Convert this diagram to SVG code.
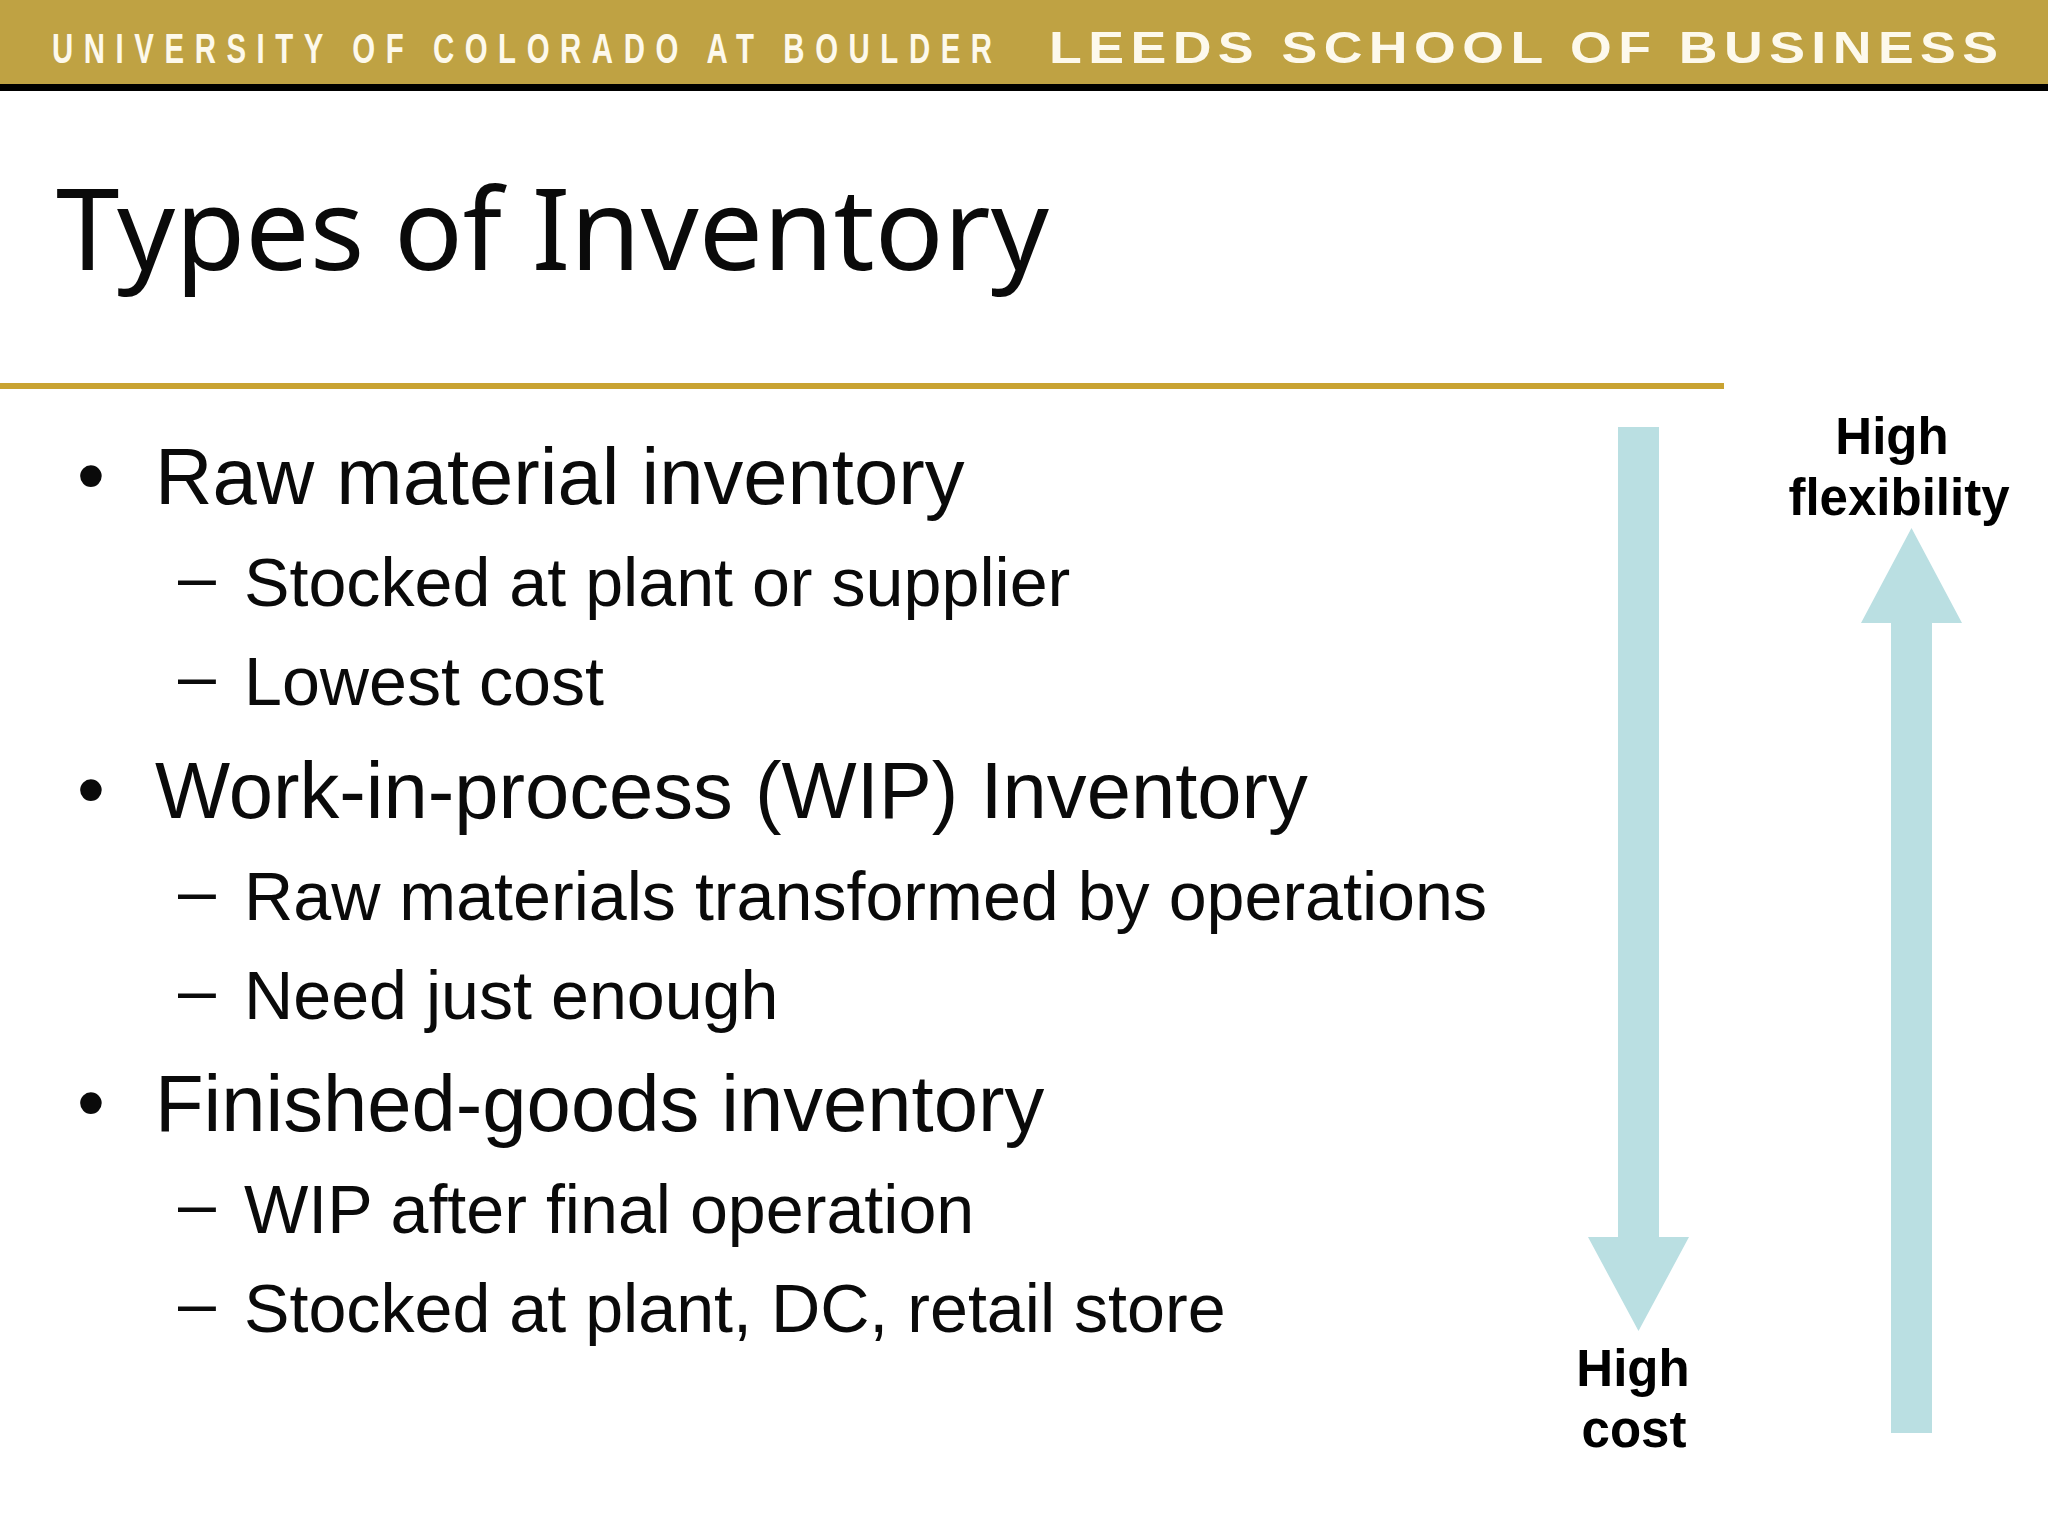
<svg xmlns="http://www.w3.org/2000/svg" width="2048" height="1536" viewBox="0 0 2048 1536">
<style>
.b{font-family:"Liberation Sans",Arial,sans-serif;fill:#0a0a0a}
.l1{font-size:79.6px}
.l2{font-size:68.2px}
.lab{font-family:"Liberation Sans",Arial,sans-serif;font-weight:700;font-size:51px;fill:#000;text-anchor:middle}
.arrow{fill:#badfe2}
</style>
<rect width="2048" height="1536" fill="#fff"/>
<g id="header">
<rect width="2048" height="84" fill="#bfa243"/>
<rect y="84" width="2048" height="7" fill="#000"/>
<text transform="translate(52,63) scale(.7,1)" textLength="1343" lengthAdjust="spacing" font-family="Liberation Sans, Arial, sans-serif" font-weight="700" font-size="42" fill="#fdf9ec">UNIVERSITY OF COLORADO AT BOULDER</text>
<text transform="translate(1049,63) scale(1.22,1)" textLength="778" lengthAdjust="spacing" font-family="Liberation Sans, Arial, sans-serif" font-weight="700" font-size="44" fill="#fdf9ec">LEEDS SCHOOL OF BUSINESS</text>
</g>
<g id="title">
<text x="56" y="270" font-family="Noto Sans, sans-serif" font-size="114" fill="#0a0a0a">Types of Inventory</text>
<rect x="0" y="383" width="1724" height="6" fill="#c9a332"/>
</g>
<g id="body">
<text class="b l1" x="77" y="503">•</text><text class="b l1" x="155" y="504">Raw material inventory</text>
<text class="b l2" x="178" y="600">–</text><text class="b l2" x="244" y="606">Stocked at plant or supplier</text>
<text class="b l2" x="178" y="699">–</text><text class="b l2" x="244" y="705">Lowest cost</text>
<text class="b l1" x="77" y="817">•</text><text class="b l1" x="155" y="818">Work-in-process (WIP) Inventory</text>
<text class="b l2" x="178" y="914">–</text><text class="b l2" x="244" y="920">Raw materials transformed by operations</text>
<text class="b l2" x="178" y="1013">–</text><text class="b l2" x="244" y="1019">Need just enough</text>
<text class="b l1" x="77" y="1130">•</text><text class="b l1" x="155" y="1131">Finished-goods inventory</text>
<text class="b l2" x="178" y="1227">–</text><text class="b l2" x="244" y="1233">WIP after final operation</text>
<text class="b l2" x="178" y="1326">–</text><text class="b l2" x="244" y="1332">Stocked at plant, DC, retail store</text>
</g>
<g id="connectors">
<polygon class="arrow" points="1618,427 1659,427 1659,1237 1689,1237 1638.5,1331 1588,1237 1618,1237"/>
<polygon class="arrow" points="1891,1433 1932,1433 1932,623 1962,623 1911.5,528 1861,623 1891,623"/>
</g>
<g id="high-flexibility">
<text class="lab" x="1892" y="454">High</text>
<text class="lab" x="1899" y="515">flexibility</text>
</g>
<g id="high-cost">
<text class="lab" x="1633" y="1386">High</text>
<text class="lab" x="1634" y="1447">cost</text>
</g>
</svg>
